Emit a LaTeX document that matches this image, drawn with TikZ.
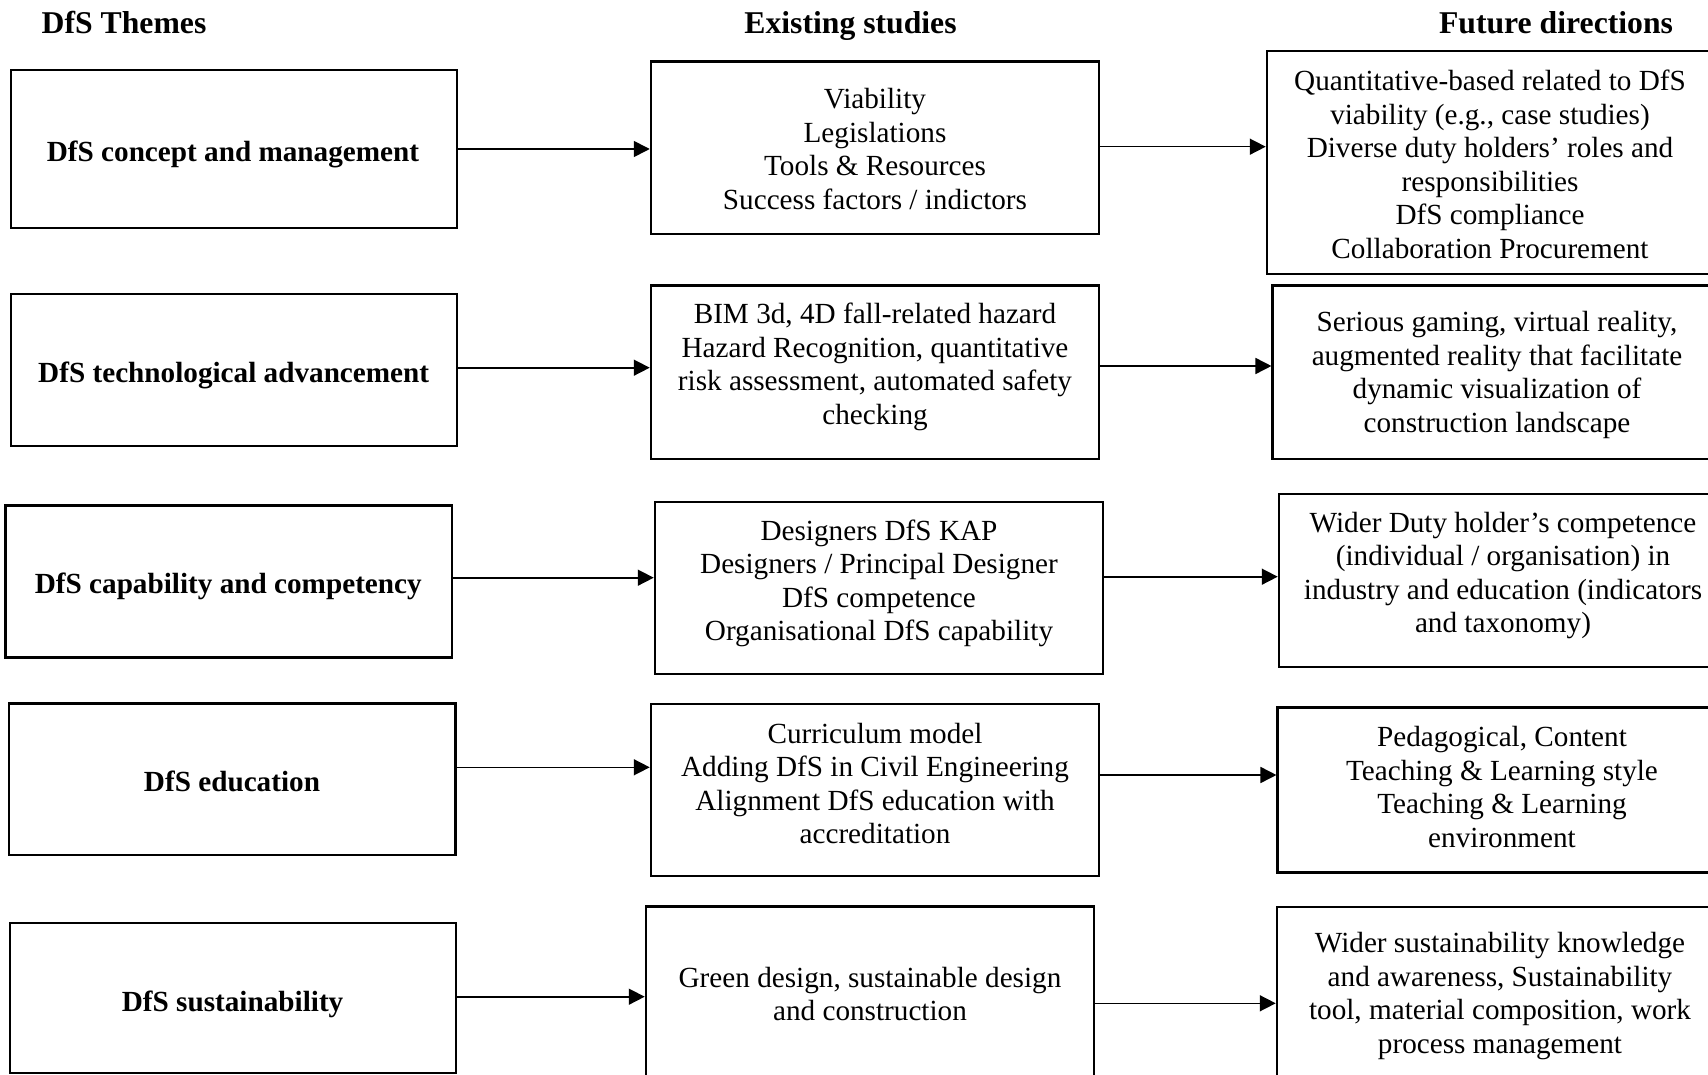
\documentclass[tikz,border=0pt]{standalone}
\usepackage{fontspec}
\setmainfont{Liberation Serif}
\usetikzlibrary{arrows.meta}
\tikzset{
  box/.style={draw=black, line width=2.5pt, rectangle, inner sep=0pt},
  txt/.style={align=center, inner sep=0pt, font=\fontsize{29.2}{33.5}\selectfont},
  theme/.style={align=center, inner sep=0pt, font=\fontsize{29.2}{33.5}\selectfont\bfseries},
  head/.style={inner sep=0pt, font=\fontsize{31.7}{36}\selectfont\bfseries},
  arr/.style={line width=1.6pt, -{Triangle[length=16pt,width=16pt]}},
}
\begin{document}
\begin{tikzpicture}[x=1pt, y=-1pt]
\clip (0,0) rectangle (1708,1075);
\fill[white] (0,0) rectangle (1708,1075);

% headers
\node[head, anchor=base west] (h1) at (41.5,34) {DfS Themes};
\node[head, anchor=base] (h2) at (850.5,34) {Existing studies};
\node[head, anchor=base] (h3) at (1556,34) {Future directions};

% left column
\node[box, minimum width=446.3pt, minimum height=158pt] (l1) at (233.9,149) {};
\node[box, minimum width=446.3pt, minimum height=152pt] (l2) at (233.9,370) {};
\node[box, minimum width=446.4pt, minimum height=151.6pt] (l3) at (228.6,581.5) {};
\node[box, minimum width=446.5pt, minimum height=151.7pt] (l4) at (232.2,779.2) {};
\node[box, minimum width=446.2pt, minimum height=150.3pt] (l5) at (232.9,997.9) {};
\node[theme] (l1t) at (233,154) {DfS concept and management};
\node[theme] (l2t) at (233.7,375) {DfS technological advancement};
\node[theme] (l3t) at (228.3,586.5) {DfS capability and competency};
\node[theme] (l4t) at (232,781) {DfS education};
\node[theme] (l5t) at (232.6,1004) {DfS sustainability};

% middle column
\node[box, minimum width=448pt, minimum height=172.5pt] (m1) at (875,147.7) {};
\node[box, minimum width=448pt, minimum height=173.5pt] (m2) at (875,372.2) {};
\node[box, minimum width=448pt, minimum height=172pt] (m3) at (879,588) {};
\node[box, minimum width=448pt, minimum height=172pt] (m4) at (875,790) {};
\node[box, minimum width=448pt, minimum height=172.6pt] (m5) at (870,993) {};
\node[txt] (m1t) at (875,149) {Viability\\Legislations\\Tools \& Resources\\Success factors / indictors};
\node[txt] (m2t) at (875,367) {BIM 3d, 4D fall-related hazard\\Hazard Recognition, quantitative\\risk assessment, automated safety\\checking};
\node[txt] (m3t) at (879,583.5) {Designers DfS KAP\\Designers / Principal Designer\\DfS competence\\Organisational DfS capability};
\node[txt] (m4t) at (875,783.5) {Curriculum model\\Adding DfS in Civil Engineering\\Alignment DfS education with\\accreditation};
\node[txt] (m5t) at (870,994) {Green design, sustainable design\\and construction};

% right column
\node[box, minimum width=446pt, minimum height=223pt] (r1) at (1490,162.5) {};
\node[box, minimum width=448.6pt, minimum height=173.3pt] (r2) at (1497,372.3) {};
\node[box, minimum width=448pt, minimum height=173pt] (r3) at (1503,580.5) {};
\node[box, minimum width=448.6pt, minimum height=165pt] (r4) at (1502,790.2) {};
\node[box, minimum width=446pt, minimum height=172.3pt] (r5) at (1500,993) {};
\node[txt] (r1t) at (1490,164.5) {Quantitative-based related to DfS\\viability (e.g., case studies)\\Diverse duty holders’ roles and\\responsibilities\\DfS compliance\\Collaboration Procurement};
\node[txt] (r2t) at (1497,375) {Serious gaming, virtual reality,\\augmented reality that facilitate\\dynamic visualization of\\construction landscape};
\node[txt] (r3t) at (1503,575.5) {Wider Duty holder’s competence\\(individual / organisation) in\\industry and education (indicators\\and taxonomy)};
\node[txt] (r4t) at (1502,787) {Pedagogical, Content\\Teaching \& Learning style\\Teaching \& Learning\\environment};
\node[txt] (r5t) at (1500,996) {Wider sustainability knowledge\\and awareness, Sustainability\\tool, material composition, work\\process management};

% connectors
\draw[arr] (l1.east |- 0,149) -- (m1.west |- 0,149);
\draw[arr] (m1.east |- 0,146.7) -- (r1.west |- 0,146.7);
\draw[arr] (l2.east |- 0,367.7) -- (m2.west |- 0,367.7);
\draw[arr] (m2.east |- 0,366) -- (r2.west |- 0,366);
\draw[arr] (l3.east |- 0,577.7) -- (m3.west |- 0,577.7);
\draw[arr] (m3.east |- 0,576.7) -- (r3.west |- 0,576.7);
\draw[arr] (l4.east |- 0,767.3) -- (m4.west |- 0,767.3);
\draw[arr] (m4.east |- 0,775) -- (r4.west |- 0,775);
\draw[arr] (l5.east |- 0,996.7) -- (m5.west |- 0,996.7);
\draw[arr] (m5.east |- 0,1003.3) -- (r5.west |- 0,1003.3);
\end{tikzpicture}
\end{document}
